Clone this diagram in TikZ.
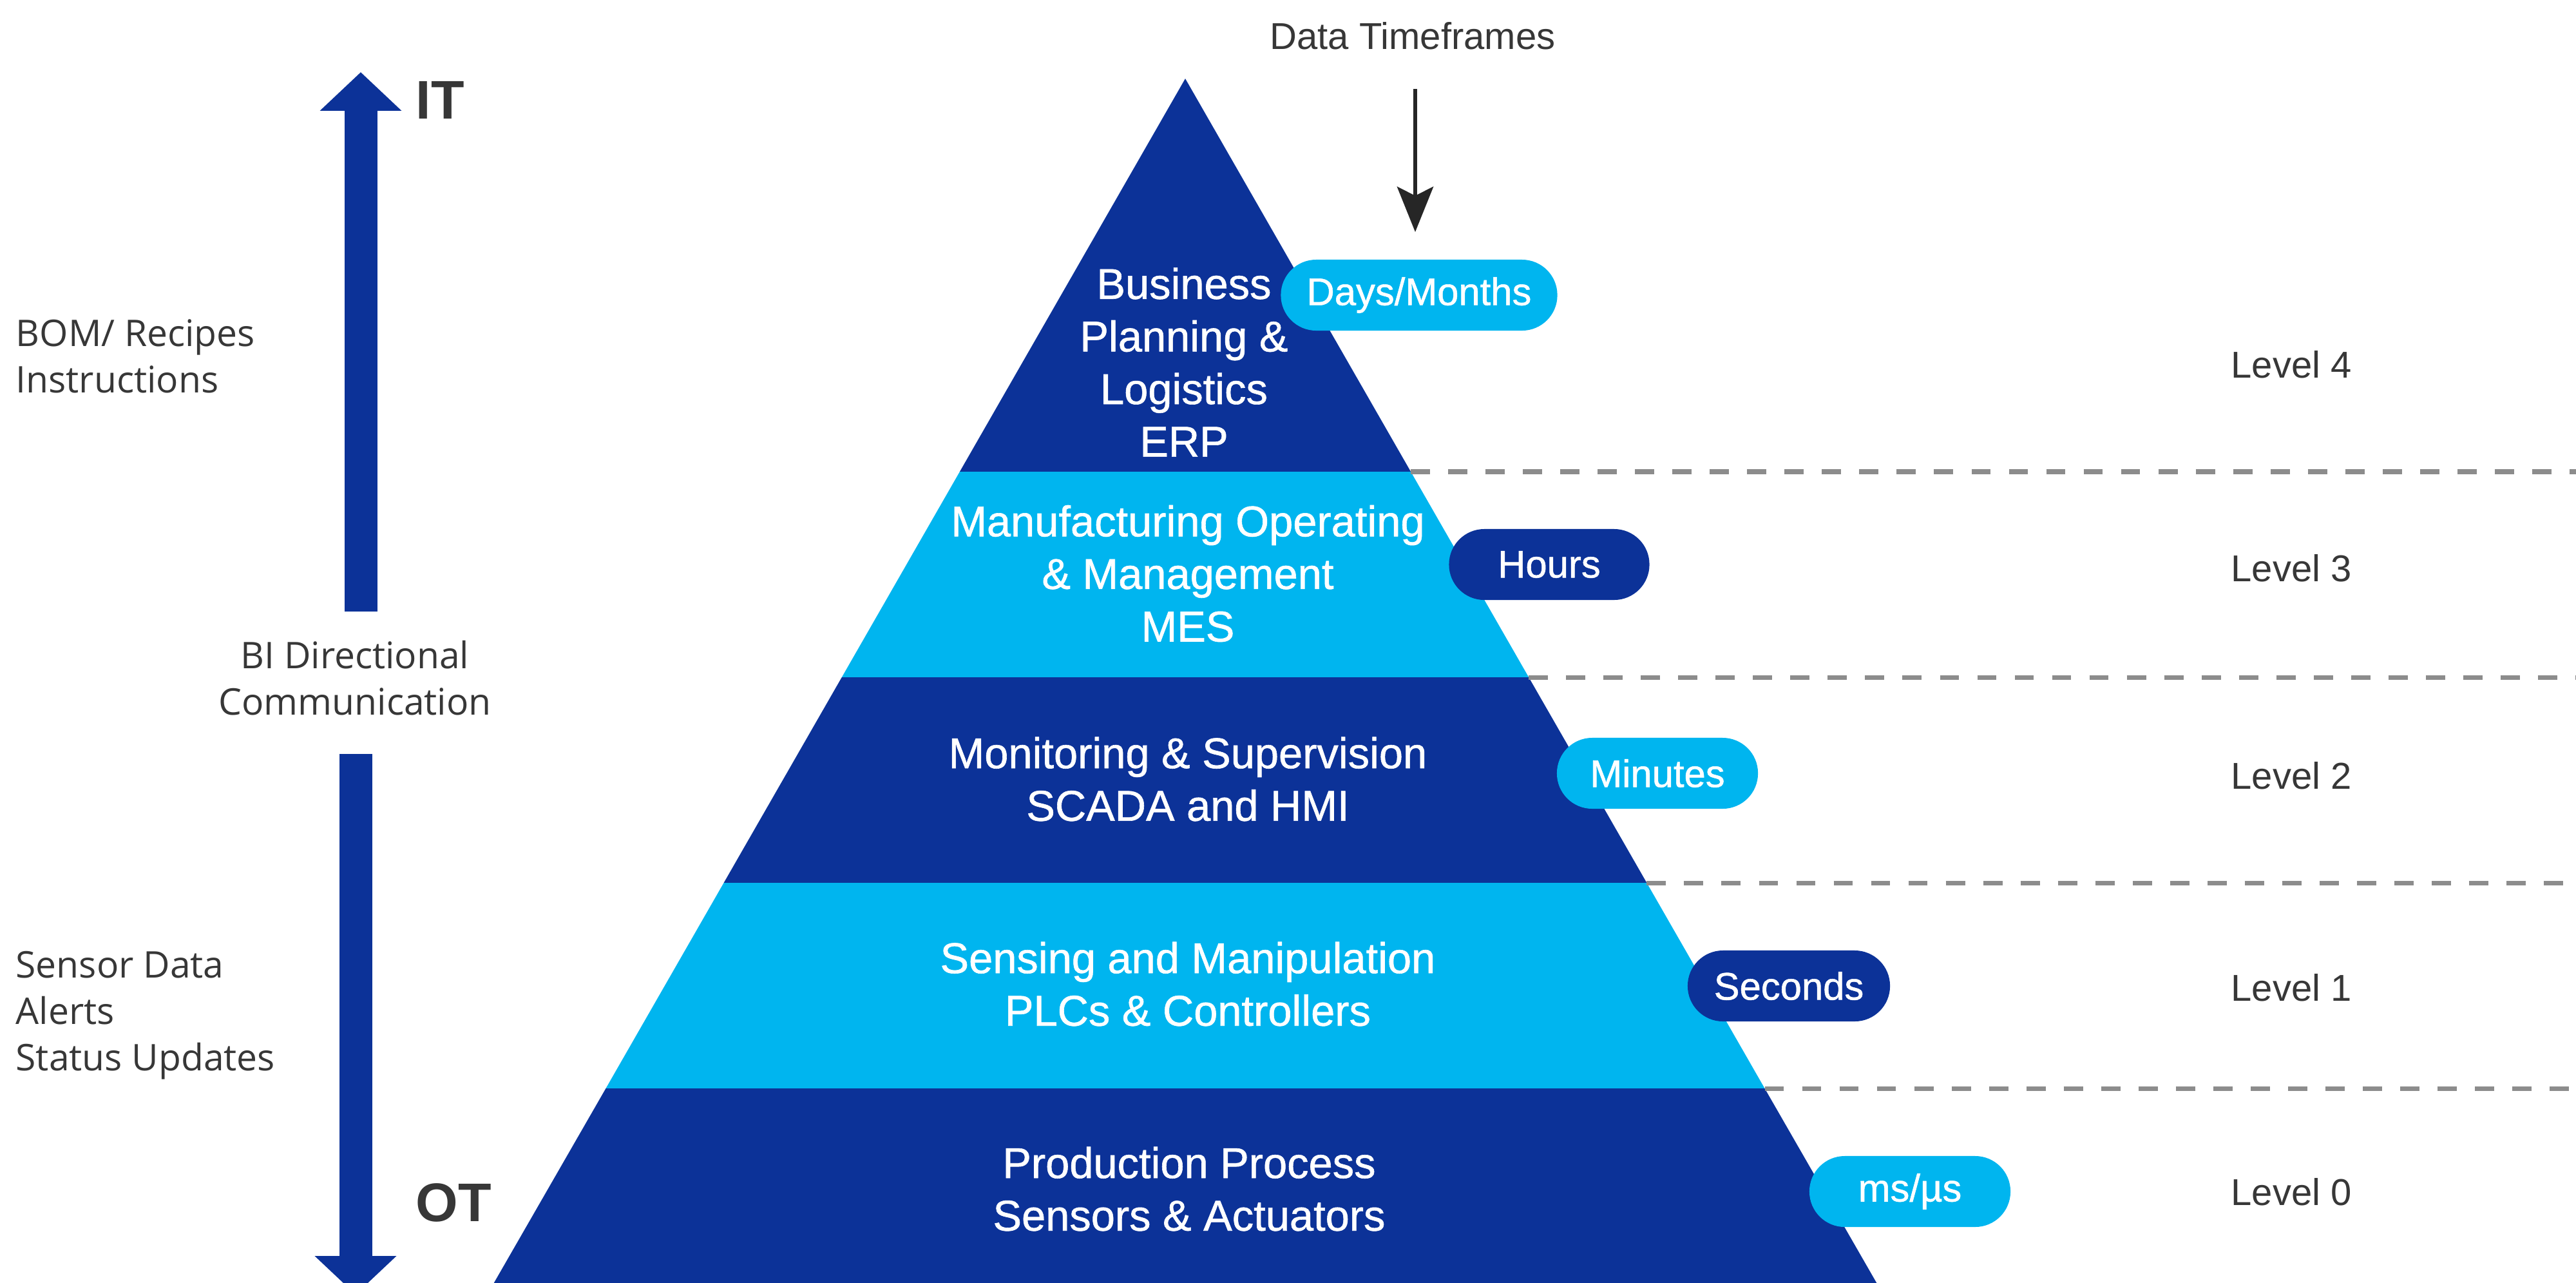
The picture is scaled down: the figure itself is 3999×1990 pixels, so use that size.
\documentclass[tikz,border=0pt]{standalone}
\usepackage{fontspec}
\setmainfont{Liberation Sans}
\newfontfamily\sidefont{Open Sans}
\newfontfamily\medfont[FakeBold=0.9]{Liberation Sans}
\usetikzlibrary{arrows.meta}
\definecolor{dkblue}{RGB}{12,50,152}
\definecolor{ltblue}{RGB}{0,181,239}
\definecolor{txtgray}{RGB}{55,55,55}
\definecolor{dashgray}{RGB}{140,140,140}
\begin{document}
\begin{tikzpicture}[x=0.01cm,y=-0.01cm,
  bandtext/.style={text=white, align=center, font=\medfont\fontsize{19}{23.2}\selectfont, inner sep=0pt},
  pill/.style={rounded corners=15.6pt, minimum height=1.1cm, inner sep=0pt, text=white, font=\medfont\fontsize{17}{20}\selectfont},
  darkpill/.style={pill, fill=dkblue},
  lightpill/.style={pill, fill=ltblue},
  leveltext/.style={text=txtgray, font=\fontsize{16.5}{20}\selectfont, inner sep=0pt},
  sidetext/.style={text=txtgray, font=\sidefont\fontsize{16.2}{20.5}\selectfont, inner sep=0pt},
  bigtext/.style={text=txtgray, font=\bfseries\fontsize{24}{28}\selectfont, inner sep=0pt, anchor=west},
  levelline/.style={draw=dashgray, line width=2pt, dash pattern=on 8.5pt off 8pt},
  bigarrow/.style={draw=dkblue, line width=14.5pt, -{Triangle[length=17pt,width=35pt]}},
]
\useasboundingbox (0,0) rectangle (3999,1990);
\clip (0,0) rectangle (3999,1990);

% pyramid bands
\fill[dkblue] (1840,122) -- (2190.1,732) -- (1489.9,732) -- cycle;
\fill[ltblue] (1489.9,732) -- (2190.1,732) -- (2373.2,1051) -- (1306.8,1051) -- cycle;
\fill[dkblue] (1306.8,1051) -- (2373.2,1051) -- (2556.4,1370) -- (1123.6,1370) -- cycle;
\fill[ltblue] (1123.6,1370) -- (2556.4,1370) -- (2739.5,1689) -- (940.5,1689) -- cycle;
\fill[dkblue] (940.5,1689) -- (2739.5,1689) -- (2930,2020) -- (750,2020) -- cycle;

% dashed level separators
\coordinate (e4) at (2190.1,732);
\coordinate (e3) at (2373.2,1051);
\coordinate (e2) at (2556.4,1370);
\coordinate (e1) at (2739.5,1689);
\coordinate (r4) at (3999,732);
\coordinate (r3) at (3999,1051);
\coordinate (r2) at (3999,1370);
\coordinate (r1) at (3999,1689);
\draw[levelline] (e4) -- (r4);
\draw[levelline] (e3) -- (r3);
\draw[levelline] (e2) -- (r2);
\draw[levelline] (e1) -- (r1);

% band texts
\node[bandtext] (b4) at (1838,562) {Business\\Planning \&\\Logistics\\ERP};
\node[bandtext] (b3) at (1844,890) {Manufacturing Operating\\\& Management\\MES};
\node[bandtext] (b2) at (1844,1209) {Monitoring \& Supervision\\SCADA and HMI};
\node[bandtext] (b1) at (1844,1527) {Sensing and Manipulation\\PLCs \& Controllers};
\node[bandtext] (b0) at (1846,1845) {Production Process\\Sensors \& Actuators};

% time pills
\node[lightpill, minimum width=4.29cm] (p4) at (2203,458) {Days/Months};
\node[darkpill, minimum width=3.11cm] (p3) at (2405,876) {Hours};
\node[lightpill, minimum width=3.12cm] (p2) at (2573,1200) {Minutes};
\node[darkpill, minimum width=3.14cm] (p1) at (2777,1530) {Seconds};
\node[lightpill, minimum width=3.12cm] (p0) at (2965,1849) {ms/µs};

% Data timeframes
\node[leveltext] (dt) at (2193,56) {Data Timeframes};
\coordinate (dttop) at (2197,138);
\coordinate (dttip) at (2197,360);
\draw[line width=1.5pt, draw=black!85, -{Stealth[length=20pt,width=16pt,inset=4pt]}] (dttop) -- (dttip);

% level labels
\node[leveltext] (l4) at (3557,566) {Level 4};
\node[leveltext] (l3) at (3557,882) {Level 3};
\node[leveltext] (l2) at (3557,1204) {Level 2};
\node[leveltext] (l1) at (3557,1533) {Level 1};
\node[leveltext] (l0) at (3557,1850) {Level 0};

% left side
\coordinate (upbot) at (560,949);
\coordinate (uptip) at (560,112);
\coordinate (dntop) at (552,1170);
\coordinate (dntip) at (552,2009);
\draw[bigarrow] (upbot) -- (uptip);
\draw[bigarrow] (dntop) -- (dntip);
\node[bigtext] (it) at (645,155) {IT};
\node[bigtext] (ot) at (645,1866) {OT};
\node[sidetext, align=center] (bi) at (551,1052) {BI Directional\\Communication};
\node[sidetext, align=left, anchor=west] (bom) at (24,553) {BOM/ Recipes\\Instructions};
\node[sidetext, align=left, anchor=west] (sens) at (24,1576) {Sensor Data\\Alerts\\Status Updates};
\end{tikzpicture}
\end{document}
